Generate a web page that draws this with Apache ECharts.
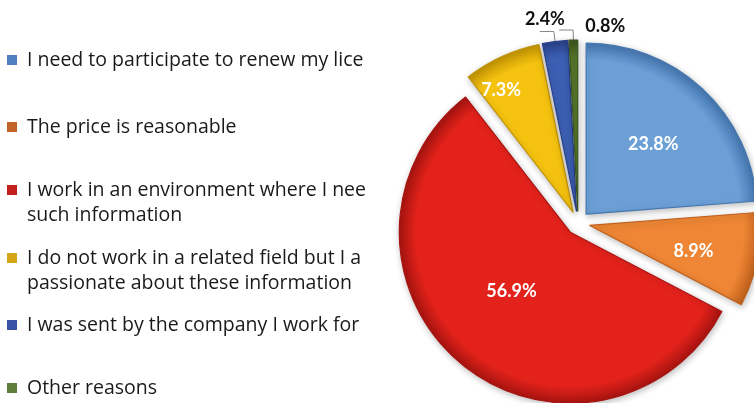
<!DOCTYPE html>
<html>
<head>
<meta charset="utf-8">
<script src="https://cdn.jsdelivr.net/npm/echarts@6/dist/echarts.min.js"></script>
<style>
  html, body { margin: 0; padding: 0; background: #fff; }
  #chart { width: 754px; height: 403px; }
</style>
</head>
<body>
<div id="chart"></div>
<script>
  // reasons and their share (%), clockwise from 12 o'clock
  var reasons = [
    'I need to participate to renew my license',
    'The price is reasonable',
    'I work in an environment where I need\nsuch information',
    'I do not work in a related field but I am\npassionate about these information',
    'I was sent by the company I work for',
    'Other reasons'
  ];
  var shares = [23.8, 8.9, 56.9, 7.3, 2.4, 0.8];

  var sliceColors = ['#6b9fd6', '#ee8635', '#e3221b', '#f4c20f', '#3c5fb4', '#55752b'];
  var edgeColors  = ['#4577b0', '#c0601c', '#a81410', '#c29304', '#28418a', '#3a541e'];
  var iconColors  = ['#4f7fbf', '#c4632a', '#c21f1d', '#d4a617', '#3953a4', '#5e7d3a'];

  // small slices get their label outside
  var outside = [false, false, false, false, true, true];
  // label nudges from the default spot (px)
  var labelDx = [7, 17, -2, -35, 30, 71];
  var labelDy = [-5, 8, -9, -41, -12, -4];
  // legend rows: centre of first text line
  var legendRows = [60, 127, 190, 258, 325, 388];

  var pieCenter = [578, 223];
  var pieRadius = 171;
  var lineH = 25;
  var fontFam = '"Open Sans", Lato, sans-serif';

  var chart = echarts.init(document.getElementById('chart'));

  var legends = reasons.map(function (name, i) {
    var twoLines = name.indexOf('\n') >= 0;
    return {
      orient: 'vertical',
      left: 7,
      top: twoLines ? legendRows[i] - lineH * 1.5 : legendRows[i] - lineH / 2,
      padding: 0,
      itemWidth: 10,
      itemHeight: 10,
      itemGap: 0,
      selectedMode: false,
      icon: 'rect',
      data: [{
        name: name,
        itemStyle: { color: iconColors[i], borderWidth: 0 }
      }],
      // extra blank line so the icon sits next to the first line
      formatter: function (n) { return twoLines ? '\n' + n : n; },
      textStyle: {
        fontFamily: fontFam,
        fontSize: 19.5,
        color: '#1a1a1a',
        lineHeight: lineH,
        width: 346,
        overflow: 'truncate',
        ellipsis: '',
        padding: [0, 0, 0, 5]
      }
    };
  });

  // darker rim to mimic the bevelled look
  function rimFill(i) {
    return {
      type: 'radial',
      x: pieCenter[0], y: pieCenter[1], r: pieRadius,
      global: true,
      colorStops: [
        { offset: 0, color: sliceColors[i] },
        { offset: 0.9, color: sliceColors[i] },
        { offset: 1, color: edgeColors[i] }
      ]
    };
  }

  var pieData = reasons.map(function (name, i) {
    return {
      name: name,
      value: shares[i],
      selected: true,
      itemStyle: {
        color: rimFill(i),
        borderColor: edgeColors[i],
        borderWidth: 1.2
      },
      label: outside[i] ? {
        position: 'outside',
        color: '#111'
      } : {
        position: 'inside',
        color: '#fff'
      },
      labelLine: { show: outside[i], length2: 14 }
    };
  });

  chart.setOption({
    backgroundColor: '#fff',
    animation: false,
    legend: legends,
    series: [{
      type: 'pie',
      center: pieCenter,
      radius: pieRadius,
      startAngle: 90,
      clockwise: true,
      selectedMode: 'multiple',
      selectedOffset: 12,
      avoidLabelOverlap: false,
      data: pieData,
      itemStyle: {
        shadowBlur: 6,
        shadowColor: 'rgba(0,0,0,0.25)',
        shadowOffsetX: 1,
        shadowOffsetY: 2
      },
      label: {
        fontFamily: 'Lato, sans-serif',
        fontWeight: 'bold',
        fontSize: 18,
        formatter: function (p) { return p.value.toFixed(1) + '%'; }
      },
      labelLine: {
        length: 10,
        lineStyle: { color: '#888', width: 1 }
      },
      labelLayout: function (p) {
        return { dx: labelDx[p.dataIndex], dy: labelDy[p.dataIndex] };
      },
      emphasis: { disabled: true }
    }]
  });
</script>
</body>
</html>
